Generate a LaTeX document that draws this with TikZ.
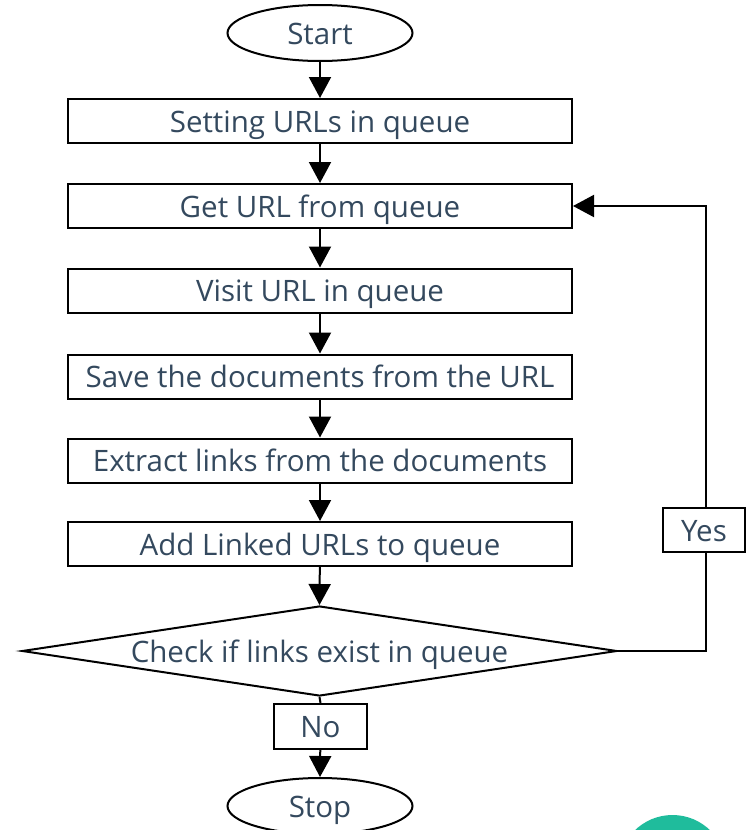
\documentclass[tikz,border=0pt]{standalone}
\usepackage{fontspec}
\setmainfont{Open Sans}
\usetikzlibrary{shapes.geometric,arrows.meta}
\definecolor{txt}{RGB}{52,73,94}
\definecolor{badge}{RGB}{31,188,156}
\begin{document}
\begin{tikzpicture}[x=1pt,y=-1pt,
  every node/.style={font=\fontsize{29.5}{33}\selectfont, text=txt, text height=22pt, text depth=0pt},
  proc/.style={draw=black, line width=2pt, rectangle, minimum width=504pt, minimum height=44pt, inner sep=0pt, fill=white},
  term/.style={draw=black, line width=2pt, ellipse, minimum width=185pt, minimum height=56pt, inner sep=0pt, fill=white},
  lab/.style={draw=black, line width=2pt, rectangle, inner sep=0pt, fill=white},
  flow/.style={line width=2pt, -{Triangle[length=21pt,width=22pt]}},
  link/.style={line width=2pt}]
  \useasboundingbox (0,0) rectangle (746,830);
  % corner badge
  \begin{scope}
    \clip (0,0) rectangle (746,830);
    \fill[badge] (672.5,869) circle (54);
  \end{scope}

  \node[term] (start) at (320,33) {Start};
  \node[proc] (b1) at (320,121) {Setting URLs in queue};
  \node[proc] (b2) at (320,206) {Get URL from queue};
  \node[proc] (b3) at (320,290.5) {Visit URL in queue};
  \node[proc] (b4) at (320,376.5) {Save the documents from the URL};
  \node[proc] (b5) at (320,460.5) {Extract links from the documents};
  \node[proc] (b6) at (320,544) {Add Linked URLs to queue};
  \node[draw=black, line width=2pt, diamond, aspect=6.6, minimum width=595pt, minimum height=90pt, inner sep=0pt] (chk) at (319.5,651) {Check if links exist in queue};
  \node[lab, minimum width=93pt, minimum height=45pt] (no) at (320.5,726.5) {No};
  \node[term] (stop) at (320,806) {Stop};

  \draw[flow] (start) -- (b1);
  \draw[flow] (b1) -- (b2);
  \draw[flow] (b2) -- (b3);
  \draw[flow] (b3) -- (b4);
  \draw[flow] (b4) -- (b5);
  \draw[flow] (b5) -- (b6);
  \draw[flow] (b6) -- (chk.north);
  \draw[link] (chk.south) -- (no.north);
  \draw[flow] (no) -- (stop.north);

  % loop back when links remain
  \coordinate (rb) at (706,651);
  \coordinate (rt) at (706,206);
  \draw[flow] (chk.east) -- (rb) -- (rt) -- (b2.east);
  \node[lab, minimum width=82pt, minimum height=44pt] (yes) at (704,530) {Yes};
\end{tikzpicture}
\end{document}
